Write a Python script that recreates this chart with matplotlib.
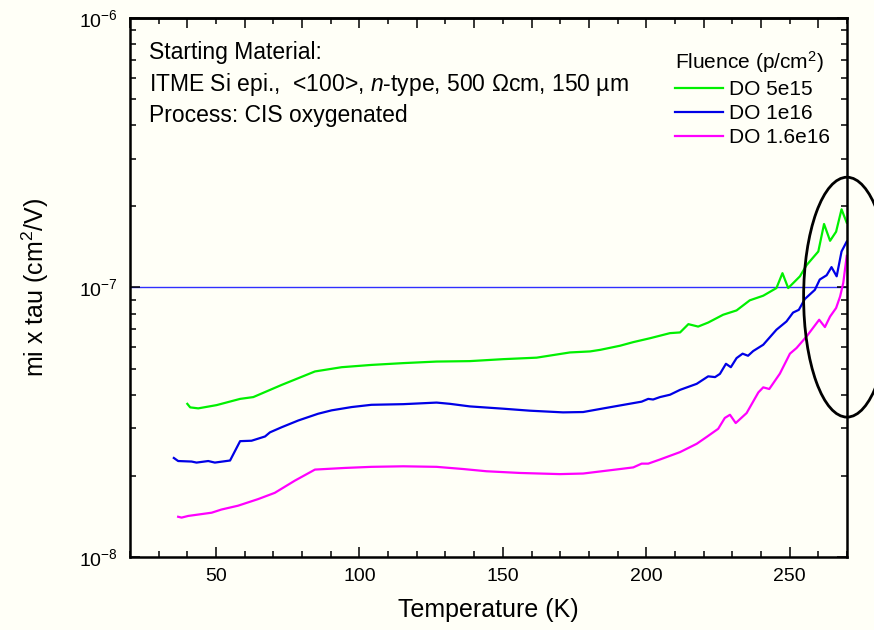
import numpy as np
import matplotlib
matplotlib.use('Agg')
import matplotlib.pyplot as plt
from matplotlib.ticker import MultipleLocator, LogLocator, NullFormatter
from matplotlib.patches import Ellipse

plt.rcParams['font.family'] = ['Liberation Sans', 'DejaVu Sans']
plt.rcParams['mathtext.fontset'] = 'custom'
plt.rcParams['mathtext.rm'] = 'Liberation Sans'
plt.rcParams['mathtext.it'] = 'Liberation Sans:italic'
plt.rcParams['mathtext.bf'] = 'Liberation Sans:bold'

# data (T in K, mu*tau in cm2/V)
t_5e15 = [40.0, 41.0, 43.8, 50.2, 58.4, 63.0, 72.9, 84.5, 93.8, 104.2, 115.3, 126.9,
          138.5, 150.1, 161.8, 173.4, 180.4, 184.0, 190.9, 195.5, 201.3, 208.3, 211.8,
          214.7, 218.1, 221.6, 226.8, 231.5, 236.1, 240.8, 245.4, 247.5, 249.5, 253.6,
          255.9, 260.0, 262.0, 264.1, 266.2, 268.1, 269.9]
mt_5e15 = [3.70, 3.59, 3.56, 3.66, 3.86, 3.92, 4.35, 4.88, 5.06, 5.16, 5.24, 5.31,
           5.33, 5.42, 5.49, 5.74, 5.79, 5.87, 6.08, 6.27, 6.48, 6.77, 6.81,
           7.31, 7.16, 7.41, 7.92, 8.22, 8.96, 9.32, 9.95, 11.3, 9.95, 11.0,
           12.1, 13.6, 17.2, 14.9, 16.1, 19.5, 17.4]

t_1e16 = [35.3, 36.8, 41.5, 43.2, 47.3, 49.6, 54.9, 58.4, 62.4, 67.1, 68.8, 72.9,
          78.7, 85.6, 90.3, 97.3, 104.2, 115.3, 126.9, 131.6, 138.5, 150.1, 159.4,
          171.0, 178.0, 184.5, 190.9, 198.4, 200.7, 202.4, 204.8, 208.3, 211.8, 217.6,
          221.6, 224.0, 225.7, 227.8, 229.5, 231.5, 233.6, 235.5, 237.3, 240.8, 245.4,
          248.9, 251.2, 253.2, 255.3, 258.8, 260.5, 262.9, 264.6, 266.4, 268.1, 269.9]
mt_1e16 = [2.33, 2.27, 2.26, 2.24, 2.27, 2.24, 2.28, 2.69, 2.70, 2.80, 2.90, 3.03,
           3.21, 3.40, 3.50, 3.60, 3.67, 3.69, 3.74, 3.70, 3.62, 3.55, 3.49,
           3.44, 3.45, 3.55, 3.65, 3.77, 3.86, 3.84, 3.92, 4.00, 4.17, 4.39,
           4.68, 4.65, 4.78, 5.21, 5.06, 5.47, 5.68, 5.58, 5.81, 6.13, 6.97,
           7.48, 8.07, 8.26, 9.06, 9.80, 10.7, 11.1, 11.9, 11.0, 13.6, 14.8]

t_16e16 = [36.8, 38.0, 40.3, 48.5, 51.9, 57.7, 64.7, 70.5, 77.5, 84.5, 88.0, 95.0,
           104.2, 115.3, 126.9, 136.2, 144.3, 156.0, 169.9, 178.0, 184.5, 190.9, 195.5,
           198.4, 200.7, 204.8, 211.8, 217.6, 221.1, 225.1, 227.4, 229.2, 231.2, 235.0,
           239.1, 240.8, 242.9, 246.6, 250.1, 252.4, 255.9, 260.3, 262.3, 264.1, 266.2,
           267.6, 268.7, 269.9]
mt_16e16 = [1.41, 1.40, 1.42, 1.46, 1.50, 1.55, 1.64, 1.73, 1.92, 2.11, 2.12, 2.14,
            2.16, 2.17, 2.16, 2.12, 2.08, 2.05, 2.03, 2.04, 2.08, 2.12, 2.15,
            2.22, 2.22, 2.30, 2.45, 2.63, 2.79, 2.99, 3.28, 3.37, 3.14, 3.42,
            4.08, 4.26, 4.20, 4.79, 5.68, 5.96, 6.58, 7.59, 7.13, 7.80, 8.39,
            9.26, 10.4, 13.1]

bg = '#fffff7'
fig = plt.figure(figsize=(8.74, 6.30), dpi=100, facecolor=bg)
ax = fig.add_axes([0.1487, 0.1159, 0.8204, 0.8556], facecolor=bg)

ax.axhline(1e-7, color='#3030ff', lw=1.0, zorder=1)
ax.plot(t_5e15, np.array(mt_5e15) * 1e-8, color='#00f000', lw=1.6, label='DO 5e15')
ax.plot(t_1e16, np.array(mt_1e16) * 1e-8, color='#0000e6', lw=1.6, label='DO 1e16')
ax.plot(t_16e16, np.array(mt_16e16) * 1e-8, color='#ff00ff', lw=1.6, label='DO 1.6e16')

ax.set_yscale('log')
ax.set_xlim(20, 270)
ax.set_ylim(1e-8, 1e-6)

ax.xaxis.set_major_locator(MultipleLocator(50))
ax.xaxis.set_minor_locator(MultipleLocator(10))
ax.yaxis.set_major_locator(LogLocator(base=10))
ax.yaxis.set_minor_locator(LogLocator(base=10, subs=np.arange(2, 10)))
ax.yaxis.set_minor_formatter(NullFormatter())

ax.tick_params(which='both', direction='in', right=True, width=1.1, labelsize=14)
ax.tick_params(axis='x', which='both', top=False, pad=8)
ax.tick_params(axis='y', pad=9)
ax.tick_params(which='major', length=7.5)
ax.tick_params(which='minor', length=4)

top = ax.secondary_xaxis('top')
top.xaxis.set_major_locator(MultipleLocator(20))
top.xaxis.set_minor_locator(MultipleLocator(10))
top.tick_params(which='both', direction='in', width=1.1, labeltop=False)
top.tick_params(which='major', length=7.5)
top.tick_params(which='minor', length=4)
top.spines['top'].set_linewidth(1.8)

for s in ax.spines.values():
    s.set_linewidth(1.8)

ax.set_xlabel('Temperature (K)', fontsize=18)
ax.xaxis.set_label_coords(0.5, -0.098)
ax.xaxis.label.set_va('center')
ax.set_ylabel('mi x tau (cm$^2$/V)', fontsize=18)
ax.yaxis.set_label_coords(-0.1325, 0.5)
ax.yaxis.label.set_va('center')

ax.text(0.0265, 0.924, 'Starting Material:', transform=ax.transAxes, fontsize=16.5, va='baseline')
ax.text(0.0265, 0.865, 'ITME Si epi.,  <100>, $\\mathit{n}$-type, 500 \u03a9cm, 150 \u00b5m',
        transform=ax.transAxes, fontsize=16.5, va='baseline')
ax.text(0.0265, 0.807, 'Process: CIS oxygenated', transform=ax.transAxes, fontsize=16.5, va='baseline')

leg = ax.legend(title='Fluence (p/cm$^2$)', loc='upper left', bbox_to_anchor=(0.760, 0.9425),
                frameon=False, fontsize=15, title_fontsize=15, borderpad=0, borderaxespad=0,
                handlelength=2.3, handletextpad=0.3, labelspacing=0.25, alignment='left')

ell = Ellipse((1.0, 0.482), 0.121, 0.445, transform=ax.transAxes, fill=False,
              ec='black', lw=2.0, clip_on=False, zorder=5)
ax.add_patch(ell)

fig.savefig('out.png', dpi=100, facecolor=bg)
